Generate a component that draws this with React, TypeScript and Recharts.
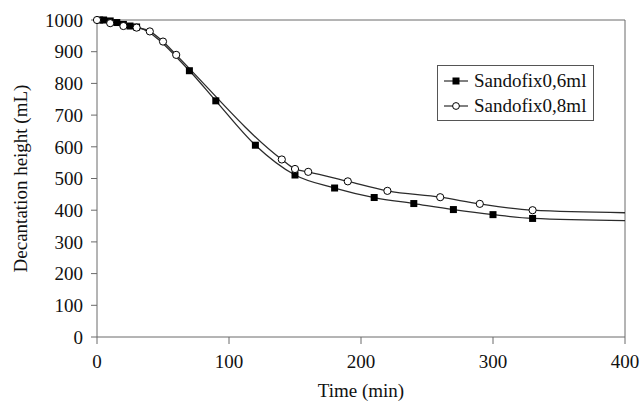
import React from "react";
import {
  LineChart, Line, XAxis, YAxis, ReferenceLine,
} from "recharts";

// Sandofix 0,6 ml (filled squares)
const time06 = [2, 5, 10, 15, 20, 25, 30, 70, 90, 120, 150, 180, 210, 240, 270, 300, 330, 400];
const height06 = [1000, 1000, 997, 992, 986, 981, 978, 840, 745, 605, 511, 470, 440, 421, 402, 386, 374, 367];

// Sandofix 0,8 ml (open circles)
const time08 = [0, 10, 20, 30, 40, 50, 60, 140, 150, 160, 190, 220, 260, 290, 330, 400];
const height08 = [1000, 990, 981, 976, 964, 932, 890, 560, 530, 521, 491, 461, 441, 420, 400, 392];

const xTicks = [0, 100, 200, 300, 400];
const yTicks = [0, 100, 200, 300, 400, 500, 600, 700, 800, 900, 1000];

const series06 = time06.map((t, i) => ({ t, v: height06[i] }));
const series08 = time08.map((t, i) => ({ t, v: height08[i] }));

const FONT = "'Liberation Serif', 'Times New Roman', serif";
const LINE = "#2b2b2b";
const AXIS = "#6a6a6a";

const SquareDot = (props: any) => {
  const { cx, cy, index } = props;
  if (index === series06.length - 1) return <g key={`s-${index}`} />;
  return <rect key={`s-${index}`} x={cx - 3.5} y={cy - 3.5} width={7} height={7} fill="#000" />;
};

const CircleDot = (props: any) => {
  const { cx, cy, index } = props;
  if (index === series08.length - 1) return <g key={`c-${index}`} />;
  return <circle key={`c-${index}`} cx={cx} cy={cy} r={3.6} fill="#fff" stroke="#000" strokeWidth={1} />;
};

function LegendBox() {
  const row = (label: string, filled: boolean) => (
    <div style={{ display: "flex", alignItems: "center", height: 25 }}>
      <svg width={26} height={12}>
        <line x1={1} y1={6} x2={25} y2={6} stroke={LINE} strokeWidth={1.2} />
        {filled ? (
          <rect x={9.5} y={2.5} width={7} height={7} fill="#000" />
        ) : (
          <circle cx={13} cy={6} r={3.4} fill="#fff" stroke="#000" />
        )}
      </svg>
      <span style={{ marginLeft: 5 }}>{label}</span>
    </div>
  );
  return (
    <div
      style={{
        position: "absolute",
        left: 437,
        top: 65,
        border: "1px solid #555",
        background: "#fff",
        padding: "2px 6px 2px 5px",
        fontFamily: FONT,
        fontSize: 19,
        color: "#111",
        width: 157,
        boxSizing: "border-box",
      }}
    >
      {row("Sandofix0,6ml", true)}
      {row("Sandofix0,8ml", false)}
    </div>
  );
}

export default function App() {
  return (
    <div style={{ position: "absolute", left: 0, top: 0, width: 643, height: 404, background: "#fff" }}>
      <LineChart width={643} height={404} margin={{ top: 20, right: 18, left: 0, bottom: 0 }}>
        <XAxis
          dataKey="t"
          type="number"
          domain={[0, 400]}
          ticks={xTicks}
          allowDuplicatedCategory={false}
          height={67}
          stroke={AXIS}
          tickSize={7}
          tickMargin={11}
          tick={{ fill: "#111", fontSize: 19, fontFamily: FONT }}
          label={{ value: "Time (min)", position: "insideBottom", offset: 7, fill: "#111", fontSize: 19, fontFamily: FONT }}
        />
        <YAxis
          dataKey="v"
          type="number"
          domain={[0, 1000]}
          ticks={yTicks}
          width={97}
          stroke={AXIS}
          tickSize={6}
          tickMargin={8}
          tick={{ fill: "#111", fontSize: 19, fontFamily: FONT }}
          label={{
            value: "Decantation height (mL)",
            angle: -90,
            position: "insideLeft",
            offset: 20,
            style: { textAnchor: "middle" },
            fill: "#111",
            fontSize: 19,
            fontFamily: FONT,
          }}
        />
        <ReferenceLine y={1000} stroke={AXIS} strokeWidth={1} />
        <ReferenceLine x={400} stroke={AXIS} strokeWidth={1} />
        <Line
          data={series06}
          dataKey="v"
          name="Sandofix0,6ml"
          type="monotone"
          stroke={LINE}
          strokeWidth={1.3}
          dot={SquareDot}
          activeDot={false}
          isAnimationActive={false}
        />
        <Line
          data={series08}
          dataKey="v"
          name="Sandofix0,8ml"
          type="monotone"
          stroke={LINE}
          strokeWidth={1.3}
          dot={CircleDot}
          activeDot={false}
          isAnimationActive={false}
        />
      </LineChart>
      <LegendBox />
    </div>
  );
}
